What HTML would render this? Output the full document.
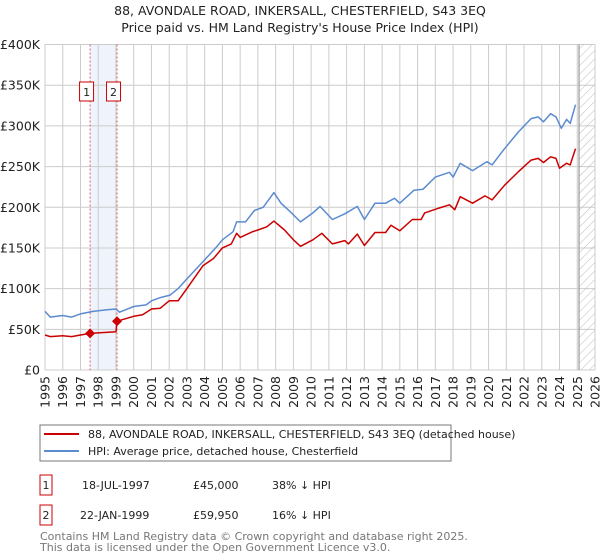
<!DOCTYPE html>
<html><head><meta charset="utf-8">
<style>
body{margin:0;background:#fff;}
svg{display:block;font-family:"DejaVu Sans","Liberation Sans",sans-serif;}
</style></head>
<body>
<svg id="chart" width="600" height="560" viewBox="0 0 600 560" xmlns="http://www.w3.org/2000/svg">
<defs>
<pattern id="hatch" patternUnits="userSpaceOnUse" width="6" height="6" patternTransform="rotate(45)">
<line x1="0" y1="0" x2="0" y2="6" stroke="#bbb" stroke-width="1"/>
</pattern>
</defs>
<text x="300" y="15" text-anchor="middle" font-size="12.5" fill="#222">88, AVONDALE ROAD, INKERSALL, CHESTERFIELD, S43 3EQ</text>
<text x="300" y="32" text-anchor="middle" font-size="12.5" fill="#222">Price paid vs. HM Land Registry's House Price Index (HPI)</text>
<g id="grid"></g>
<g id="marks"></g>
<g id="axes"></g>
<rect x="40" y="425" width="411" height="36" fill="#fff" stroke="#777"/>
<line x1="44" y1="434" x2="79" y2="434" stroke="#cc0000" stroke-width="2"/>
<text x="88" y="438" font-size="11" fill="#222">88, AVONDALE ROAD, INKERSALL, CHESTERFIELD, S43 3EQ (detached house)</text>
<line x1="44" y1="451" x2="79" y2="451" stroke="#5b8bd0" stroke-width="2"/>
<text x="88" y="455" font-size="11" fill="#222">HPI: Average price, detached house, Chesterfield</text>
<g font-size="11" fill="#222">
<rect x="40" y="475" width="12" height="20" fill="#fff" stroke="#cc0000"/>
<text x="46" y="489" text-anchor="middle">1</text>
<text x="82" y="489">18-JUL-1997</text>
<text x="193" y="489">£45,000</text>
<text x="272" y="489">38% ↓ HPI</text>
</g>
<g font-size="11" fill="#222">
<rect x="40" y="505" width="12" height="20" fill="#fff" stroke="#cc0000"/>
<text x="46" y="519" text-anchor="middle">2</text>
<text x="80" y="519">22-JAN-1999</text>
<text x="193" y="519">£59,950</text>
<text x="272" y="519">16% ↓ HPI</text>
</g>
<text x="40" y="540" font-size="11" fill="#777">Contains HM Land Registry data © Crown copyright and database right 2025.</text>
<text x="40" y="551" font-size="11" fill="#777">This data is licensed under the Open Government Licence v3.0.</text>
</svg>
<script>
const yTicks = [0,50,100,150,200,250,300,350,400];
const yTickLabels = ["£0","£50K","£100K","£150K","£200K","£250K","£300K","£350K","£400K"];
const xYears = [1995,1996,1997,1998,1999,2000,2001,2002,2003,2004,2005,2006,2007,2008,2009,2010,2011,2012,2013,2014,2015,2016,2017,2018,2019,2020,2021,2022,2023,2024,2025,2026];
const hpiYears = [1995.0,1995.3,1996.0,1996.5,1997.0,1997.7,1998.5,1999.0,1999.2,2000.0,2000.7,2001.0,2001.5,2002.05,2002.5,2003.0,2003.9,2004.7,2005.0,2005.6,2005.8,2006.3,2006.8,2007.3,2007.9,2008.3,2008.8,2009.4,2010.1,2010.5,2011.2,2011.9,2012.6,2013.0,2013.6,2014.2,2014.7,2015.0,2015.8,2016.3,2017.0,2017.8,2018.0,2018.4,2019.1,2019.9,2020.2,2020.9,2021.7,2022.4,2022.8,2023.1,2023.5,2023.8,2024.1,2024.4,2024.6,2024.9];
const hpiValues = [72,65,67,65,69,72,74,75,71,78,80,85,89,92,100,112,133,152,160,170,182,182,196,200,218,205,195,182,193,201,185,192,201,185,205,205,211,205,221,222,237,243,237,254,245,256,252,272,293,309,311,305,315,311,297,308,303,326];
const saleYears = [1995.0,1995.3,1996.0,1996.5,1997.0,1997.54,1999.0,1999.06,2000.0,2000.5,2001.0,2001.5,2002.0,2002.5,2003.0,2003.9,2004.5,2005.0,2005.5,2005.8,2006.0,2006.7,2007.0,2007.5,2007.9,2008.5,2009.0,2009.4,2010.1,2010.6,2011.2,2011.9,2012.1,2012.6,2013.0,2013.6,2014.2,2014.5,2015.0,2015.7,2016.2,2016.4,2017.2,2017.8,2018.1,2018.4,2019.1,2019.8,2020.2,2020.9,2021.7,2022.4,2022.8,2023.1,2023.5,2023.8,2024.0,2024.4,2024.6,2024.9];
const saleValues = [43,41,42,41,43,45,47,60,66,68,75,76,85,85,100,128,137,150,155,168,163,170,172,176,183,172,160,152,160,168,155,159,155,167,153,169,169,178,171,185,185,193,199,203,197,213,205,214,209,227,244,258,260,255,262,260,248,254,252,272];
const salesX = [1997.54,1999.06];
const salesY = [45,59.95];
const salesLabels = ["1","2"];

const X0=45,X1=595,Y0=370,Y1=44.5;
const xs = y => X0 + (y-1995)*(X1-X0)/31;
const ys = v => Y0 - v*(Y0-Y1)/400;
const NS="http://www.w3.org/2000/svg";
function mk(tag, attrs, parent){const e=document.createElementNS(NS,tag);for(const k in attrs)e.setAttribute(k,attrs[k]);parent.appendChild(e);return e;}
const grid=document.getElementById('grid'), marks=document.getElementById('marks'), axes=document.getElementById('axes');

// band between sales
const band=mk('rect',{x:xs(salesX[0]),y:Y1,width:xs(salesX[1])-xs(salesX[0]),height:Y0-Y1,fill:'#eef3fc'},grid);


// gridlines
xYears.forEach(yr=>{
  const l=mk('line',{x1:xs(yr),x2:xs(yr),y1:Y1,y2:Y0,stroke:'#cccccc','stroke-width':1},grid);
  
  
});
yTicks.forEach(v=>{
  const l=mk('line',{x1:X0,x2:X1,y1:ys(v),y2:ys(v),stroke:'#cccccc','stroke-width':1},grid);
  
  
});
// hatch future region
const hx=xs(2025.1);
const hatch=mk('rect',{x:hx,y:Y1,width:X1-hx,height:Y0-Y1,fill:'url(#hatch)'},grid);


const hl=mk('line',{x1:hx,x2:hx,y1:Y1,y2:Y0,stroke:'#999','stroke-width':1.2},grid);



// sale vertical lines
salesX.forEach((s,i)=>{
  const l=mk('line',{x1:xs(s),x2:xs(s),y1:Y1,y2:Y0,stroke:'#e06060','stroke-width':1,'stroke-dasharray':'2,2'},marks);
  
  
});

function pathOf(xa,va){return xa.map((x,i)=>(i?'L':'M')+xs(x).toFixed(1)+','+ys(va[i]).toFixed(1)).join(' ');}
const hp=mk('path',{d:pathOf(hpiYears,hpiValues),fill:'none',stroke:'#5b8bd0','stroke-width':1.5,'stroke-linejoin':'round'},marks);


const sp=mk('path',{d:pathOf(saleYears,saleValues),fill:'none',stroke:'#cc0000','stroke-width':1.5,'stroke-linejoin':'round'},marks);



salesX.forEach((s,i)=>{
  const cx=xs(s), cy=ys(salesY[i]);
  const d=mk('path',{d:`M${cx},${cy-5} L${cx+5},${cy} L${cx},${cy+5} L${cx-5},${cy} Z`,fill:'#cc0000'},marks);
  
  
  const b=mk('rect',{x:cx-10.5,y:82,width:14,height:19,fill:'#fff',stroke:'#cc0000'},marks);
  
  
  const t=mk('text',{x:cx-3.5,y:96,'text-anchor':'middle','font-size':11,fill:'#222'},marks);
  t.textContent=salesLabels[i];
  
  
});

// axis labels
yTicks.forEach((v,i)=>{
  const t=mk('text',{x:40,y:ys(v)+4.5,'text-anchor':'end','font-size':12.5,fill:'#222'},axes);
  t.textContent=yTickLabels[i];
  
  
});
xYears.forEach(yr=>{
  const x=xs(yr);
  const t=mk('text',{x:0,y:0,'text-anchor':'end','font-size':12.5,fill:'#222',transform:`translate(${x+4.5},376) rotate(-90)`},axes);
  t.textContent=String(yr);
  
  
});
</script>
</body></html>
